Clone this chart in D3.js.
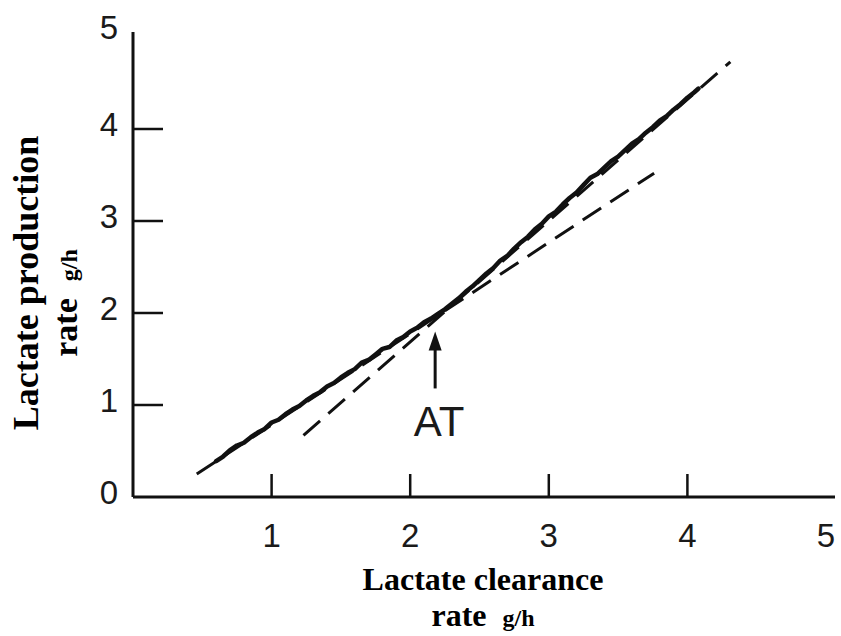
<!DOCTYPE html>
<html>
<head>
<meta charset="utf-8">
<script src="https://cdn.jsdelivr.net/npm/d3@7"></script>
<style>
body { margin: 0; background: #fff; }
.tick-label { font-family: "Liberation Sans", Arial, sans-serif; font-size: 33px; fill: #1a1a1a; }
.title { font-family: "Liberation Serif", "Times New Roman", serif; font-weight: bold; fill: #000; }
</style>
</head>
<body>
<div id="drawing"></div>
<script>
// lactate clearance (g/h) vs lactate production (g/h)
var clearance = [0.60, 0.65, 0.70, 0.75, 0.80, 0.85, 0.90, 0.95, 1.00, 1.05,
  1.10, 1.15, 1.20, 1.25, 1.30, 1.35, 1.40, 1.45, 1.50, 1.55,
  1.60, 1.65, 1.70, 1.75, 1.80, 1.85, 1.90, 1.95, 2.00, 2.05,
  2.10, 2.15, 2.20, 2.25, 2.30, 2.35, 2.40, 2.45, 2.50, 2.55,
  2.60, 2.65, 2.70, 2.75, 2.80, 2.85, 2.90, 2.95, 3.00, 3.05,
  3.10, 3.15, 3.20, 3.25, 3.30, 3.35, 3.40, 3.45, 3.50, 3.55,
  3.60, 3.65, 3.70, 3.75, 3.80, 3.85, 3.90, 3.95, 4.00, 4.05, 4.08];
var production = [0.39, 0.44, 0.51, 0.56, 0.59, 0.65, 0.70, 0.74, 0.81, 0.84,
  0.90, 0.95, 0.99, 1.05, 1.10, 1.14, 1.20, 1.24, 1.30, 1.35,
  1.39, 1.46, 1.49, 1.55, 1.61, 1.63, 1.70, 1.74, 1.80, 1.84,
  1.90, 1.94, 1.99, 2.04, 2.10, 2.16, 2.23, 2.29, 2.36, 2.43,
  2.49, 2.57, 2.62, 2.70, 2.77, 2.83, 2.91, 2.97, 3.05, 3.10,
  3.18, 3.25, 3.31, 3.39, 3.47, 3.51, 3.58, 3.65, 3.70, 3.77,
  3.84, 3.89, 3.96, 4.02, 4.09, 4.14, 4.21, 4.27, 4.34, 4.40, 4.44];

// dashed fit lines: below AT and above AT
var fitLow = [[0.46, 0.25], [3.76, 3.52]];
var fitHigh = [[1.23, 0.67], [4.31, 4.73]];

var xTicks = [1, 2, 3, 4, 5];
var yTicks = [0, 1, 2, 3, 4, 5];
var atX = 2.18;

var W = 841, H = 636;

var svg = d3.select("#drawing")
.append("svg")
.attr("width", W)
.attr("height", H);

var x = d3.scaleLinear().domain([0, 5]).range([133, 826]);
var y = d3.scaleLinear().domain([0, 5]).range([497, 37]);

// axes lines
svg.append("line")
.attr("x1", x(0)).attr("x2", 835)
.attr("y1", y(0)).attr("y2", y(0))
.attr("stroke", "#111").attr("stroke-width", 3);

svg.append("line")
.attr("x1", x(0)).attr("x2", x(0))
.attr("y1", y(0)).attr("y2", 32)
.attr("stroke", "#111").attr("stroke-width", 3);

// ticks point inward
svg.selectAll(".xtick")
.data(xTicks.filter(function(d) { return d < 5; }))
.enter().append("line")
.attr("x1", function(d) { return x(d); })
.attr("x2", function(d) { return x(d); })
.attr("y1", y(0)).attr("y2", y(0) - 23)
.attr("stroke", "#111").attr("stroke-width", 2.5);

svg.selectAll(".ytick")
.data(yTicks.filter(function(d) { return d > 0 && d < 5; }))
.enter().append("line")
.attr("x1", x(0)).attr("x2", x(0) + 30)
.attr("y1", function(d) { return y(d); })
.attr("y2", function(d) { return y(d); })
.attr("stroke", "#111").attr("stroke-width", 2.5);

svg.selectAll(".xlab")
.data(xTicks)
.enter().append("text")
.attr("class", "tick-label")
.attr("x", function(d) { return x(d); })
.attr("y", 547)
.attr("text-anchor", "middle")
.text(function(d) { return d; });

svg.selectAll(".ylab")
.data(yTicks)
.enter().append("text")
.attr("class", "tick-label")
.attr("x", 118)
.attr("y", function(d) { return y(d) + 7 - (d == 5 ? 5 : 0); })
.attr("text-anchor", "end")
.text(function(d) { return d; });

var line = d3.line()
.x(function(d) { return x(d[0]); })
.y(function(d) { return y(d[1]); });

[fitLow, fitHigh].forEach(function(f) {
  svg.append("path")
  .attr("d", line(f))
  .attr("fill", "none")
  .attr("stroke", "#111")
  .attr("stroke-width", 3)
  .attr("stroke-dasharray", "22,11");
});

var pts = clearance.map(function(c, i) { return [c, production[i]]; });

svg.append("path")
.attr("d", line(pts))
.attr("fill", "none")
.attr("stroke", "#111")
.attr("stroke-width", 4.5)
.attr("stroke-linejoin", "round")
.attr("stroke-linecap", "round");

// AT arrow
svg.append("line")
.attr("x1", x(atX)).attr("x2", x(atX))
.attr("y1", y(1.18)).attr("y2", y(1.68))
.attr("stroke", "#111").attr("stroke-width", 3);

svg.append("path")
.attr("d", "M" + x(atX) + "," + y(1.80) +
  "L" + (x(atX) - 6.5) + "," + (y(1.80) + 19) +
  "L" + (x(atX) + 6.5) + "," + (y(1.80) + 19) + "Z")
.attr("fill", "#111");

svg.append("text")
.attr("class", "tick-label")
.attr("x", x(atX) + 4)
.attr("y", 436)
.attr("text-anchor", "middle")
.style("font-size", "42px")
.text("AT");

// axis titles
svg.append("text")
.attr("class", "title")
.attr("text-anchor", "middle")
.attr("x", 483).attr("y", 590)
.style("font-size", "32px")
.text("Lactate clearance");

var xt2 = svg.append("text")
.attr("class", "title")
.attr("text-anchor", "middle")
.attr("x", 483).attr("y", 626);
xt2.append("tspan").style("font-size", "32px").text("rate\u00a0\u00a0");
xt2.append("tspan").style("font-size", "24px").text("g/h");

svg.append("text")
.attr("class", "title")
.attr("text-anchor", "middle")
.attr("transform", "translate(38,283) rotate(-90)")
.style("font-size", "36px")
.text("Lactate production");

var yt2 = svg.append("text")
.attr("class", "title")
.attr("text-anchor", "middle")
.attr("transform", "translate(77,303) rotate(-90)");
yt2.append("tspan").style("font-size", "34px").text("rate\u00a0\u00a0");
yt2.append("tspan").style("font-size", "24px").text("g/h");
</script>
</body>
</html>
